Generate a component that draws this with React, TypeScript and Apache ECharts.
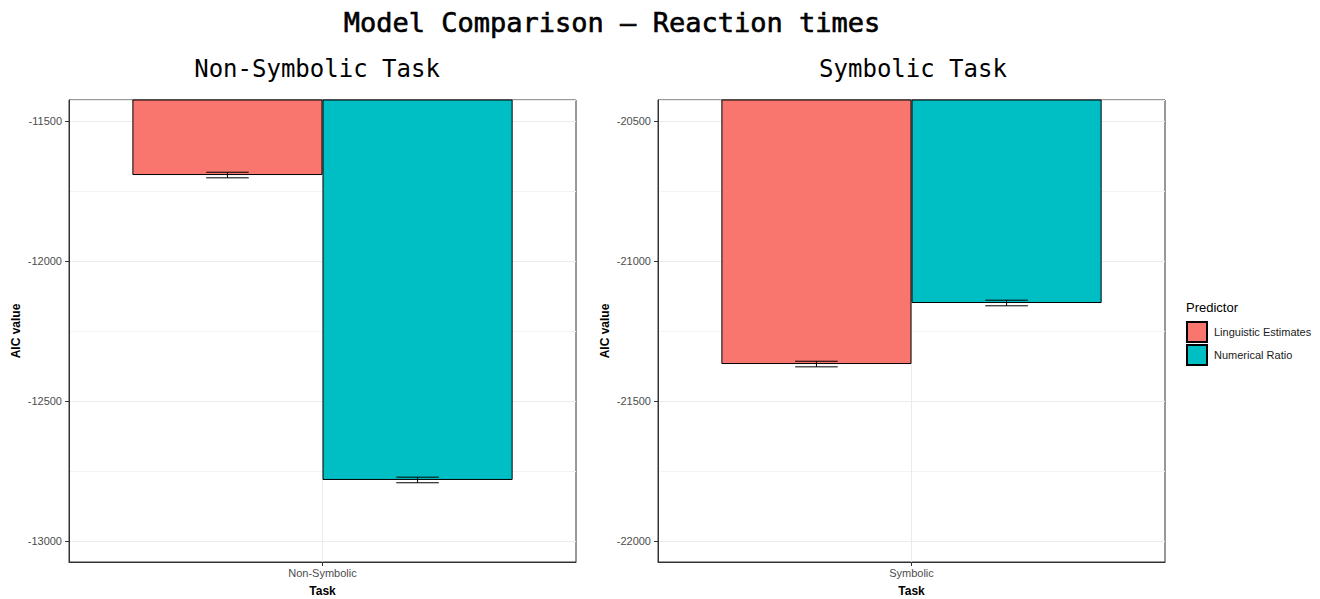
import React, { useEffect, useRef } from "react";
import * as echarts from "echarts";

const mainTitle = "Model Comparison – Reaction times";
const panelTitles = ["Non-Symbolic Task", "Symbolic Task"];
const tasks = ["Non-Symbolic", "Symbolic"];
const predictors = ["Linguistic Estimates", "Numerical Ratio"];
const linguisticAIC = [-11693, -21368];
const numericalAIC = [-12782, -21150];
const linguisticErr = [10, 10];
const numericalErr = [10, 10];
const yMin = [-13075, -22075];
const yMax = [-11425, -20425];
const colors = ["#F8766D", "#00BFC4"];

const SANS = "'Liberation Sans', Arial, Helvetica, sans-serif";
const MONO = "'DejaVu Sans Mono', 'Liberation Mono', monospace";

const gridLefts = [69, 658];
const panelTitleX = [317, 913];

function buildOption() {
  const grids = gridLefts.map((l) => ({
    left: l,
    top: 100,
    width: 507,
    height: 462,
    show: true,
    borderColor: "#333333",
    borderWidth: 1,
    backgroundColor: "transparent",
    containLabel: false,
    outerBoundsMode: "none",
  }));

  const xAxes = tasks.map((t, i) => ({
    type: "category",
    gridIndex: i,
    data: [t],
    name: "Task",
    nameLocation: "middle",
    nameGap: 23,
    nameTextStyle: { fontFamily: SANS, fontSize: 12, fontWeight: "bold", color: "#000" },
    axisLine: { show: true, lineStyle: { color: "#333333", width: 1 } },
    axisTick: { show: true, alignWithLabel: true, length: 4, lineStyle: { color: "#333333" } },
    axisLabel: { color: "#4D4D4D", fontSize: 11, fontFamily: SANS, margin: 5 },
    splitLine: { show: true, alignWithLabel: true, lineStyle: { color: "#EBEBEB", width: 1 } },
  }));

  const yAxes = tasks.map((_, i) => ({
    type: "value",
    gridIndex: i,
    min: yMin[i],
    max: yMax[i],
    splitNumber: 3,
    name: "AIC value",
    nameLocation: "middle",
    nameGap: 47,
    nameTextStyle: { fontFamily: SANS, fontSize: 12, fontWeight: "bold", color: "#000" },
    axisLine: { show: true, lineStyle: { color: "#333333", width: 1 } },
    axisTick: { show: true, length: 4, lineStyle: { color: "#333333" } },
    axisLabel: {
      color: "#4D4D4D",
      fontSize: 11,
      fontFamily: SANS,
      margin: 7,
      showMinLabel: false,
      showMaxLabel: false,
      formatter: (v: number) => String(v),
    },
    splitLine: { show: true, lineStyle: { color: "#EBEBEB", width: 1 } },
    minorTick: { show: false, splitNumber: 2 },
    minorSplitLine: { show: true, lineStyle: { color: "#F3F3F3", width: 1 } },
  }));

  const series: any[] = [];
  tasks.forEach((_, i) => {
    const vals = [linguisticAIC[i], numericalAIC[i]];
    const errs = [linguisticErr[i], numericalErr[i]];
    predictors.forEach((p, k) => {
      series.push({
        type: "bar",
        name: p,
        xAxisIndex: i,
        yAxisIndex: i,
        data: [vals[k]],
        barWidth: "37.5%",
        barGap: "0%",
        clip: true,
        z: 2,
        itemStyle: { color: colors[k], borderColor: "#000", borderWidth: 1 },
      });
    });
    series.push({
      type: "custom",
      xAxisIndex: i,
      yAxisIndex: i,
      z: 5,
      encode: { x: 0, y: 1 },
      data: [
        [0, vals[0], errs[0], -1],
        [0, vals[1], errs[1], 1],
      ],
      renderItem: (params: any, api: any) => {
        const v = api.value(1);
        const e = api.value(2);
        const side = api.value(3);
        const c = api.coord([api.value(0), v]);
        const band = api.size([1, 0])[0];
        const cx = c[0] + side * band * 0.1875;
        const hw = band * 0.042;
        const yt = api.coord([0, v + e])[1];
        const yb = api.coord([0, v - e])[1];
        const st = { stroke: "#000", lineWidth: 1 };
        return {
          type: "group",
          children: [
            { type: "line", shape: { x1: cx - hw, y1: yt, x2: cx + hw, y2: yt }, style: st },
            { type: "line", shape: { x1: cx - hw, y1: yb, x2: cx + hw, y2: yb }, style: st },
            { type: "line", shape: { x1: cx, y1: yt, x2: cx, y2: yb }, style: st },
          ],
        };
      },
    });
  });

  return {
    animation: false,
    backgroundColor: "#fff",
    grid: grids,
    xAxis: xAxes,
    yAxis: yAxes,
    series,
    legend: {
      data: predictors,
      orient: "vertical",
      left: 1181,
      top: 316,
      itemWidth: 20,
      itemHeight: 20,
      itemGap: 1,
      icon: "rect",
      selectedMode: false,
      textStyle: { fontFamily: SANS, fontSize: 11, color: "#1A1A1A", padding: [0, 0, 0, 2] },
    },
    graphic: [
      {
        type: "text",
        x: 612,
        y: 22,
        style: {
          text: mainTitle,
          fill: "#000",
          font: `500 27px ${MONO}`,
          textAlign: "center",
          textVerticalAlign: "middle",
          stroke: "#000",
          lineWidth: 0.6,
        },
      },
      ...panelTitles.map((t, i) => ({
        type: "text",
        x: panelTitleX[i],
        y: 69,
        style: {
          text: t,
          fill: "#000",
          font: `24px ${MONO}`,
          textAlign: "center",
          textVerticalAlign: "middle",
        },
      })),
      {
        type: "text",
        x: 1186,
        y: 307,
        style: {
          text: "Predictor",
          fill: "#000",
          font: `13px ${SANS}`,
          textAlign: "left",
          textVerticalAlign: "middle",
        },
      },
    ],
  };
}

export default function App() {
  const ref = useRef<HTMLDivElement>(null);
  useEffect(() => {
    document.body.style.margin = "0";
    if (!ref.current) return;
    const chart = echarts.init(ref.current, undefined, { renderer: "svg" });
    chart.setOption(buildOption() as any);
    return () => chart.dispose();
  }, []);
  return <div ref={ref} style={{ width: 1320, height: 599 }} />;
}
